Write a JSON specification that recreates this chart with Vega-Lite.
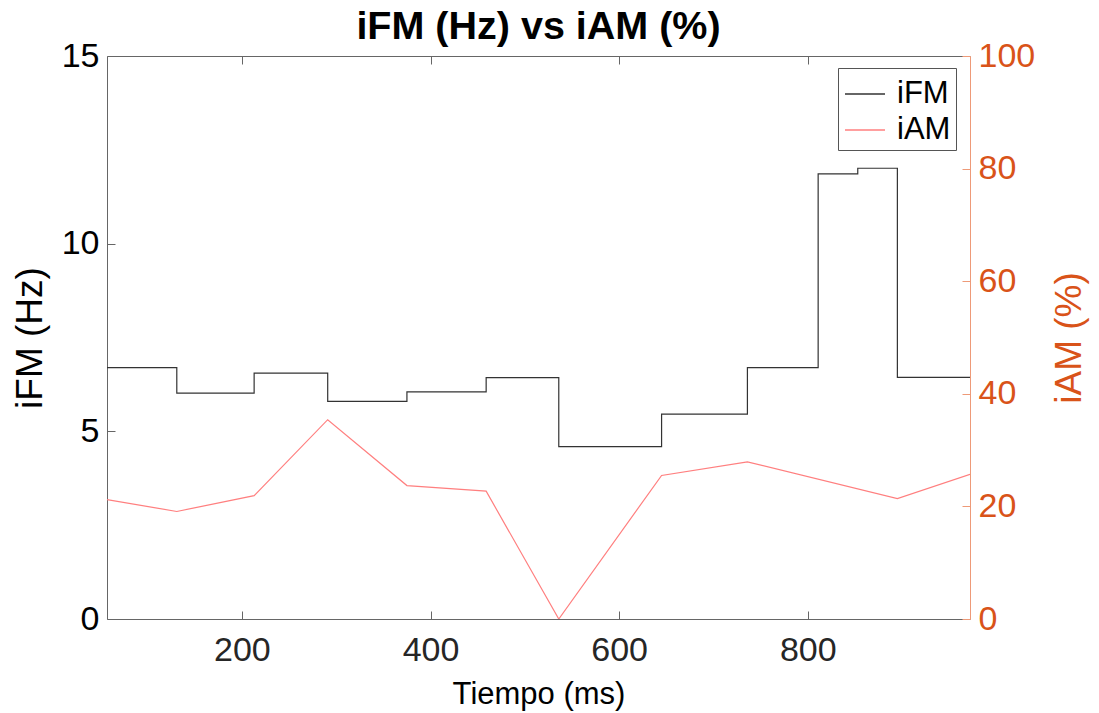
{
  "$schema": "https://vega.github.io/schema/vega-lite/v6.json",
  "width": 863,
  "height": 563,
  "autosize": {"type": "none"},
  "padding": {"left": 107, "top": 56, "right": 129, "bottom": 94},
  "background": "white",
  "title": {
    "text": "iFM (Hz) vs iAM (%)",
    "font": "Liberation Sans",
    "fontSize": 39.5,
    "fontWeight": "bold",
    "color": "#000000",
    "anchor": "middle",
    "frame": "group",
    "offset": -8
  },
  "config": {
    "view": {"stroke": null},
    "font": "Liberation Sans"
  },
  "datasets": {
    "ifm": [
      {"t": 57, "ifm": 6.70},
      {"t": 131, "ifm": 6.02},
      {"t": 213, "ifm": 6.55},
      {"t": 291, "ifm": 5.80},
      {"t": 375, "ifm": 6.05},
      {"t": 459, "ifm": 6.43},
      {"t": 536, "ifm": 4.59},
      {"t": 645, "ifm": 5.46},
      {"t": 736, "ifm": 6.70},
      {"t": 811, "ifm": 11.86},
      {"t": 853, "ifm": 12.01},
      {"t": 895, "ifm": 6.44},
      {"t": 972, "ifm": 6.44}
    ],
    "iam": [
      {"t": 57, "iam": 21.2},
      {"t": 131, "iam": 19.1},
      {"t": 213, "iam": 21.9},
      {"t": 291, "iam": 35.4},
      {"t": 375, "iam": 23.7},
      {"t": 459, "iam": 22.7},
      {"t": 536, "iam": 0},
      {"t": 645, "iam": 25.5},
      {"t": 736, "iam": 27.9},
      {"t": 895, "iam": 21.4},
      {"t": 972, "iam": 25.7}
    ]
  },
  "layer": [
    {
      "data": {"name": "ifm"},
      "mark": {"type": "line", "interpolate": "step-after", "strokeWidth": 1.2, "clip": true},
      "encoding": {
        "x": {
          "field": "t",
          "type": "quantitative",
          "scale": {"domain": [57, 972], "nice": false, "zero": false},
          "axis": {
            "orient": "bottom",
            "values": [200, 400, 600, 800],
            "title": "Tiempo (ms)",
            "grid": false,
            "domainColor": "#666666",
            "domainWidth": 1,
            "tickColor": "#666666",
            "tickWidth": 1,
            "tickSize": -8,
            "labelFont": "Liberation Sans",
            "labelFontSize": 34,
            "labelColor": "#262626",
            "labelPadding": 22,
            "titleFont": "Liberation Sans",
            "titleFontSize": 31,
            "titleFontWeight": "normal",
            "titleColor": "#000000",
            "titleBaseline": "alphabetic",
            "titleAnchor": "middle",
            "titleY": 84
          }
        },
        "y": {
          "field": "ifm",
          "type": "quantitative",
          "scale": {"domain": [0, 15], "nice": false},
          "axis": {
            "orient": "left",
            "values": [0, 5, 10, 15],
            "title": "iFM (Hz)",
            "grid": false,
            "domainColor": "#666666",
            "domainWidth": 1,
            "tickColor": "#666666",
            "tickWidth": 1,
            "tickSize": -8,
            "labelFont": "Liberation Sans",
            "labelFontSize": 34,
            "labelColor": "#000000",
            "labelPadding": 16,
            "titleFont": "Liberation Sans",
            "titleFontSize": 37,
            "titleFontWeight": "normal",
            "titleColor": "#000000",
            "titleAngle": 270,
            "titleBaseline": "alphabetic",
            "titleAlign": "center",
            "titleX": -66,
            "titleY": 281.5
          }
        },
        "color": {
          "datum": "iFM",
          "type": "nominal",
          "scale": {"domain": ["iFM", "iAM"], "range": ["#333333", "#FF7F7F"]},
          "legend": {
            "title": null,
            "orient": "none",
            "legendX": 731,
            "legendY": 12,
            "direction": "vertical",
            "fillColor": "white",
            "strokeColor": "#555555",
            "padding": 5,
            "rowPadding": -1,
            "symbolType": "stroke",
            "symbolSize": 1600,
            "symbolOffset": 1,
            "symbolStrokeWidth": 1.5,
            "labelFont": "Liberation Sans",
            "labelFontSize": 31,
            "labelColor": "#000000",
            "labelOffset": 11
          }
        }
      }
    },
    {
      "data": {"name": "iam"},
      "mark": {"type": "line", "strokeWidth": 1.2, "clip": true},
      "encoding": {
        "x": {
          "field": "t",
          "type": "quantitative",
          "axis": {
            "orient": "top",
            "values": [200, 400, 600, 800],
            "labels": false,
            "title": null,
            "grid": false,
            "domainColor": "#666666",
            "domainWidth": 1,
            "tickColor": "#666666",
            "tickWidth": 1,
            "tickSize": -8
          }
        },
        "y": {
          "field": "iam",
          "type": "quantitative",
          "scale": {"domain": [0, 100], "nice": false},
          "axis": {
            "orient": "right",
            "values": [0, 20, 40, 60, 80, 100],
            "title": "iAM (%)",
            "grid": false,
            "domainColor": "#EE9A78",
            "domainWidth": 1,
            "tickColor": "#EE9A78",
            "tickWidth": 1,
            "tickSize": -8,
            "labelFont": "Liberation Sans",
            "labelFontSize": 34,
            "labelColor": "#D95319",
            "labelPadding": 16,
            "titleFont": "Liberation Sans",
            "titleFontSize": 37,
            "titleFontWeight": "normal",
            "titleColor": "#D95319",
            "titleAngle": 270,
            "titleBaseline": "alphabetic",
            "titleAlign": "center",
            "titleX": 110,
            "titleY": 281.5
          }
        },
        "color": {"datum": "iAM", "type": "nominal"}
      }
    }
  ],
  "resolve": {"scale": {"y": "independent"}, "axis": {"x": "independent", "y": "independent"}}
}
